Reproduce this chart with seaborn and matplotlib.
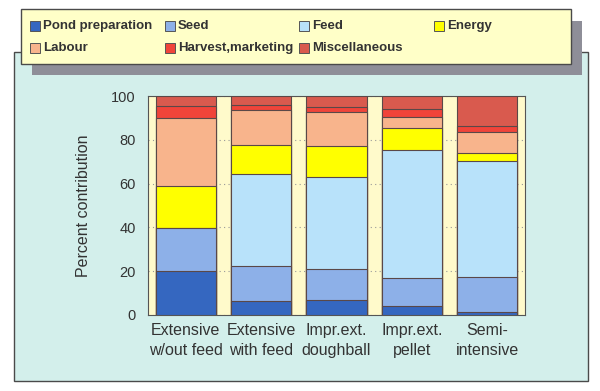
import matplotlib
matplotlib.use("Agg")
import matplotlib.pyplot as plt
from matplotlib.patches import Rectangle
import numpy as np
import pandas as pd
import seaborn as sns

categories = ["Extensive\nw/out feed", "Extensive\nwith feed", "Impr.ext.\ndoughball",
              "Impr.ext.\npellet", "Semi-\nintensive"]
series_names = ["Pond preparation", "Seed", "Feed", "Energy", "Labour",
                "Harvest,marketing", "Miscellaneous"]
pond = [20, 6.5, 7, 4, 1.5]
seed = [19.5, 16, 14, 13, 16]
feed = [0, 42, 42, 58.5, 53]
energy = [19.5, 13, 14, 10, 3.5]
labour = [31, 16, 15.5, 5, 9.5]
harvest = [5.5, 2.5, 2.5, 3.5, 3]
misc = [4.5, 4, 5, 6, 13.5]
yticks = [0, 20, 40, 60, 80, 100]

colors = ["#3567C0", "#8DB0E8", "#B8E2FA", "#FFFF00", "#F8B48C", "#F0443A", "#D95A4E"]

sns.set_theme(style="white")
plt.rcParams["font.family"] = ["Liberation Sans", "DejaVu Sans"]

W, H = 600, 391
fig = plt.figure(figsize=(6, 3.91), dpi=100, facecolor="white")

def fx(x):
    return x / W

def fy(y):
    return 1 - y / H

def frect(x0, y0, x1, y1, **kw):
    r = Rectangle((fx(x0), fy(y1)), fx(x1) - fx(x0), fy(y0) - fy(y1),
                  transform=fig.transFigure, figure=fig, **kw)
    fig.patches.append(r)
    return r

# cyan panel
frect(14, 52, 588, 381, facecolor="#D3EFEB", edgecolor="#4a4a4a", linewidth=1.0, zorder=0)
# legend shadow + box
frect(32, 21, 582, 75, facecolor="#8E8E98", edgecolor="none", zorder=1)
frect(21, 9, 571, 64, facecolor="#FFFFC8", edgecolor="#4a4a4a", linewidth=1.0, zorder=2)

# legend entries (row, col)
legend_pos = [(0, 0), (0, 1), (0, 2), (0, 3), (1, 0), (1, 1), (1, 2)]
col_x = [30, 165, 299, 434]
row_y = [26, 48]
for name, c, (r, cidx) in zip(series_names, colors, legend_pos):
    bx, by = col_x[cidx], row_y[r]
    frect(bx, by - 5, bx + 10, by + 5, facecolor=c, edgecolor="#555555", linewidth=0.7, zorder=3)
    fig.text(fx(bx + 13), fy(by), name, fontsize=9.5, fontweight="bold", color="#333333",
             va="center", ha="left", zorder=4)

# axes
ax = fig.add_axes([fx(148), fy(315), fx(525) - fx(148), fy(96) - fy(315)])
ax.set_facecolor("#FFFACB")
ax.set_zorder(5)

cols = [pond, seed, feed, energy, labour, harvest, misc]
data = np.array(cols, dtype=float)
cum = np.cumsum(data, axis=0)

for i in range(len(series_names) - 1, -1, -1):
    df = pd.DataFrame({"category": categories, "value": cum[i]})
    sns.barplot(data=df, x="category", y="value", color=colors[i], width=0.8,
                edgecolor="#5a4848", linewidth=0.8, saturation=1, ax=ax, zorder=3)

ax.set_xlim(-0.5, 4.5)
ax.set_ylim(0, 100)
ax.set_yticks(yticks)
ax.set_yticklabels([str(t) for t in yticks], fontsize=10.5, color="#333333")
ax.tick_params(axis="y", length=2, pad=7, color="#555555")
ax.tick_params(axis="x", length=0, pad=6, labelsize=11.5, labelcolor="#333333")
for lab in ax.get_xticklabels():
    lab.set_linespacing(1.35)
ax.set_xlabel("")
ax.set_ylabel("Percent contribution", fontsize=11.5, color="#333333")
ax.yaxis.set_label_coords(-0.15, 0.5)
ax.yaxis.grid(True, linestyle=(0, (1, 3)), color="#999999", linewidth=0.8)
ax.set_axisbelow(True)
for s in ax.spines.values():
    s.set_color("#555555")
    s.set_linewidth(0.8)

fig.savefig("out.png", dpi=100, facecolor="white")
